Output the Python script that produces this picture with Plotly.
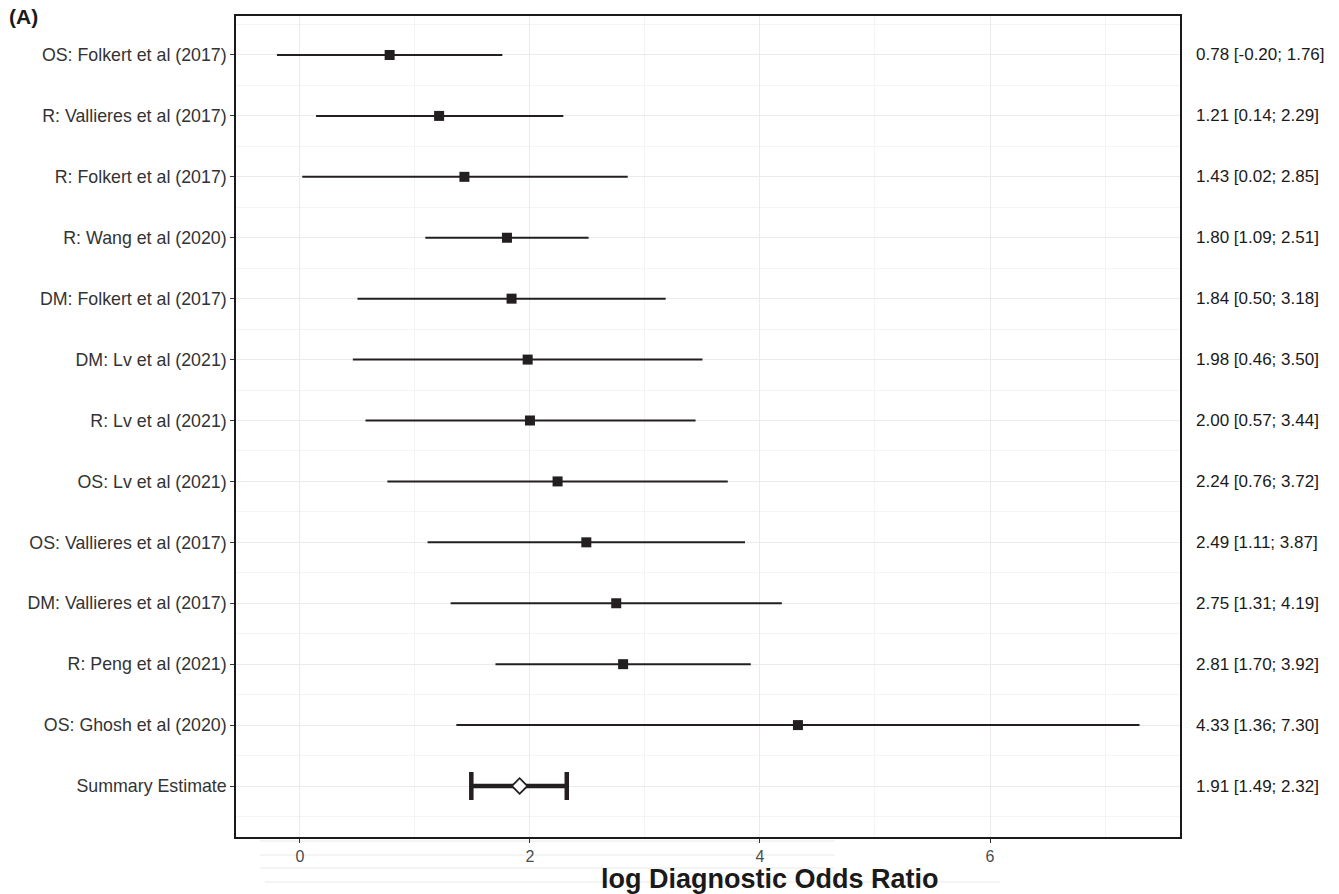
import plotly.graph_objects as go

studies = [
    "OS: Folkert et al (2017)",
    "R: Vallieres et al (2017)",
    "R: Folkert et al (2017)",
    "R: Wang et al (2020)",
    "DM: Folkert et al (2017)",
    "DM: Lv et al (2021)",
    "R: Lv et al (2021)",
    "OS: Lv et al (2021)",
    "OS: Vallieres et al (2017)",
    "DM: Vallieres et al (2017)",
    "R: Peng et al (2021)",
    "OS: Ghosh et al (2020)",
]
est = [0.78, 1.21, 1.43, 1.80, 1.84, 1.98, 2.00, 2.24, 2.49, 2.75, 2.81, 4.33]
lower = [-0.20, 0.14, 0.02, 1.09, 0.50, 0.46, 0.57, 0.76, 1.11, 1.31, 1.70, 1.36]
upper = [1.76, 2.29, 2.85, 2.51, 3.18, 3.50, 3.44, 3.72, 3.87, 4.19, 3.92, 7.30]

summary_label = "Summary Estimate"
summary_est = 1.91
summary_lower = 1.49
summary_upper = 2.32

x_ticks = [0, 2, 4, 6]

n = len(studies)
ypos = [n - i for i in range(n)]  # top study highest
all_labels = studies + [summary_label]
all_y = ypos + [0]

W, H = 1339, 894
L, R, T, B = 236, 159, 16, 57
PW, PH = W - L - R, H - T - B

fig = go.Figure()

fig.add_trace(go.Scatter(
    x=est, y=ypos, mode="markers",
    marker=dict(symbol="square", size=10, color="#231f20"),
    error_x=dict(type="data", symmetric=False,
                 array=[u - e for u, e in zip(upper, est)],
                 arrayminus=[e - l for e, l in zip(est, lower)],
                 width=0, thickness=2, color="#231f20"),
    showlegend=False, hoverinfo="skip"))

fig.add_trace(go.Scatter(
    x=[summary_est], y=[0], mode="markers",
    marker=dict(symbol="diamond", size=12, color="white",
                line=dict(color="#231f20", width=1.8)),
    error_x=dict(type="data", symmetric=False,
                 array=[summary_upper - summary_est],
                 arrayminus=[summary_est - summary_lower],
                 width=14, thickness=4.5, color="#231f20"),
    showlegend=False, hoverinfo="skip"))

# right-side text labels
right_texts = [f"{e:.2f} [{l:.2f}; {u:.2f}]" for e, l, u in zip(est, lower, upper)]
right_texts.append(f"{summary_est:.2f} [{summary_lower:.2f}; {summary_upper:.2f}]")
for t, y in zip(right_texts, all_y):
    fig.add_annotation(x=1.0, xref="paper", xshift=14, y=y, yref="y",
                       text=t, showarrow=False, xanchor="left",
                       font=dict(size=17, color="#1a1a1a", family="Liberation Sans"))

# panel label
fig.add_annotation(x=(7 - L) / PW, xref="paper", y=1 + (T - 16) / PH, yref="paper",
                   text="<b>(A)</b>", showarrow=False, xanchor="left", yanchor="middle",
                   font=dict(size=21, color="#1a1a1a", family="Liberation Sans"))

# x title
fig.add_annotation(x=(770 - L) / PW, xref="paper", y=-(879 - (H - B)) / PH, yref="paper",
                   text="<b>log Diagnostic Odds Ratio</b>", showarrow=False,
                   xanchor="center", yanchor="middle",
                   font=dict(size=27, color="#1a1a1a", family="Liberation Sans"))

# faint artifact lines below axis
for yy, x0, x1 in [(841, 260, 835), (855, 260, 835), (868, 260, 835), (882, 265, 1000)]:
    fig.add_shape(type="line", xref="paper", yref="paper",
                  x0=(x0 - L) / PW, x1=(x1 - L) / PW,
                  y0=-(yy - (H - B)) / PH, y1=-(yy - (H - B)) / PH,
                  line=dict(color="#f0f0f0", width=1.5), layer="below")

fig.update_layout(
    width=W, height=H,
    margin=dict(l=L, r=R, t=T, b=B),
    plot_bgcolor="white", paper_bgcolor="white",
    font=dict(family="Liberation Sans", color="#333333"),
    xaxis=dict(range=[-0.556, 7.652], tickmode="array", tickvals=x_ticks,
               ticktext=[str(v) for v in x_ticks],
               showgrid=True, gridcolor="#ebebeb", gridwidth=1.3,
               minor=dict(tickmode="linear", tick0=1, dtick=2, showgrid=True,
                          gridcolor="#f4f4f4", gridwidth=0.8, ticks=""),
               ticks="outside", ticklen=4, tickwidth=1.2, tickcolor="#333333",
               tickfont=dict(size=16, color="#4d4d4d"),
               showline=True, linecolor="#1a1a1a", linewidth=1.5, mirror=True,
               zeroline=False),
    yaxis=dict(range=[-0.837, 12.64], tickmode="array", tickvals=all_y,
               ticktext=all_labels,
               showgrid=True, gridcolor="#ebebeb", gridwidth=1.3,
               minor=dict(tickmode="linear", tick0=0.5, dtick=1, showgrid=True,
                          gridcolor="#f4f4f4", gridwidth=0.8, ticks=""),
               ticks="outside", ticklen=4, tickwidth=1.2, tickcolor="#333333",
               tickfont=dict(size=17.8, color="#333333"),
               showline=True, linecolor="#1a1a1a", linewidth=1.5, mirror=True,
               zeroline=False),
)

fig.write_html("out.html", config={"displayModeBar": False},
               post_script="document.body.style.margin='0';document.body.style.overflow='hidden';")
